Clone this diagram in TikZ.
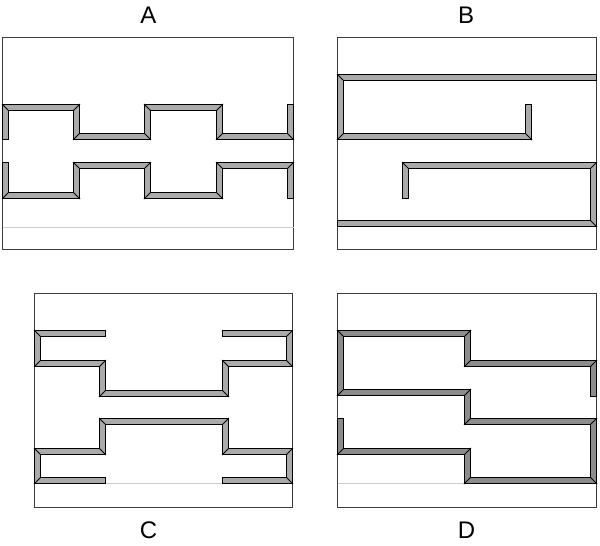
\documentclass[tikz,border=0pt]{standalone}
\usepackage{fontspec}
\setmainfont{Liberation Sans}
\usepackage{xcolor}
\definecolor{wal}{RGB}{170, 170, 170}
\definecolor{wad}{RGB}{140, 140, 140}
\definecolor{frm}{RGB}{60, 60, 60}
\definecolor{gln}{RGB}{205, 205, 205}
\newcommand{\wallpath}[2]{%
  \draw[wallout] #2;
  \draw[wallin, color=#1] #2;}

\begin{document}
\begin{tikzpicture}[x=1pt, y=-1pt,
    wallout/.style={line width=7pt, line join=miter, color=black},
    wallin/.style={line width=5pt, line join=miter, shorten <=1pt, shorten >=1pt},
    frame/.style={color=frm, line width=1pt},
    gline/.style={color=gln, line width=1pt},
    mit/.style={line width=0.8pt, color=black},
    lab/.style={font=\fontsize{24}{24}\selectfont}]
      \useasboundingbox (0, 0) rectangle (600, 546);
      % labels
      \node[lab] (la) at (148.3, 14.8) {A};
      \node[lab] (lb) at (466, 14.8) {B};
      \node[lab] (lc) at (148.5, 530) {C};
      \node[lab] (ld) at (466.5, 530) {D};
      % frames and floor lines
      \draw[frame] (2.5, 37.5) rectangle (293.5, 249.5);
      \draw[frame] (337.5, 37.5) rectangle (596.5, 249.5);
      \draw[frame] (34.5, 293.5) rectangle (292.5, 507.5);
      \draw[frame] (337.5, 293.5) rectangle (596.5, 507.5);
      \draw[gline] (2.5, 227.5)--(293.5, 227.5);
      \draw[gline] (34.5, 483.5)--(292.5, 483.5);
      \draw[gline] (337.5, 483.5)--(596.5, 483.5);
      % A
      \wallpath{wal}{(5.5, 140)--(5.5, 107.5)--(76.5, 107.5)--(76.5, 136.5)--(147.5, 136.5)--(147.5, 107.5)--(219.5, 107.5)--(219.5, 136.5)--(290.5, 136.5)--(290.5, 104)}
      \wallpath{wal}{(5.5, 162)--(5.5, 195.5)--(76.5, 195.5)--(76.5, 165.5)--(147.5, 165.5)--(147.5, 195.5)--(219.5, 195.5)--(219.5, 165.5)--(290.5, 165.5)--(290.5, 199)}
      \foreach \x/\y/\s in {5.5/107.5/1, 76.5/107.5/-1, 76.5/136.5/-1, 147.5/136.5/1, 147.5/107.5/1, 219.5/107.5/-1, 219.5/136.5/-1, 290.5/136.5/1,
          5.5/195.5/-1, 76.5/195.5/1, 76.5/165.5/1, 147.5/165.5/-1, 147.5/195.5/-1, 219.5/195.5/1, 219.5/165.5/1, 290.5/165.5/-1}
        \draw[mit] ({\x-3.5}, {\y-3.5*(\s)})--({\x+3.5}, {\y+3.5*(\s)});
      % B
      \wallpath{wal}{(597, 77.5)--(340.5, 77.5)--(340.5, 136.5)--(528.5, 136.5)--(528.5, 104)}
      \wallpath{wal}{(405.5, 199)--(405.5, 165.5)--(593.5, 165.5)--(593.5, 223.5)--(337, 223.5)}
      \foreach \x/\y/\s in {340.5/77.5/1, 340.5/136.5/-1, 528.5/136.5/1, 405.5/165.5/1, 593.5/165.5/-1, 593.5/223.5/1}
        \draw[mit] ({\x-3.5}, {\y-3.5*(\s)})--({\x+3.5}, {\y+3.5*(\s)});
      % C
      \wallpath{wal}{(106, 333.5)--(37.5, 333.5)--(37.5, 363.5)--(102.5, 363.5)--(102.5, 393.5)--(225.5, 393.5)--(225.5, 363.5)--(289.5, 363.5)--(289.5, 333.5)--(222, 333.5)}
      \wallpath{wal}{(222, 480.5)--(289.5, 480.5)--(289.5, 451.5)--(225.5, 451.5)--(225.5, 421.5)--(102.5, 421.5)--(102.5, 451.5)--(37.5, 451.5)--(37.5, 480.5)--(106, 480.5)}
      \foreach \x/\y/\s in {37.5/333.5/1, 37.5/363.5/-1, 102.5/363.5/-1, 102.5/393.5/-1, 225.5/393.5/1, 225.5/363.5/1, 289.5/363.5/1, 289.5/333.5/-1,
          289.5/480.5/1, 289.5/451.5/-1, 225.5/451.5/-1, 225.5/421.5/-1, 102.5/421.5/1, 102.5/451.5/1, 37.5/451.5/1, 37.5/480.5/-1}
        \draw[mit] ({\x-3.5}, {\y-3.5*(\s)})--({\x+3.5}, {\y+3.5*(\s)});
      % D
      \wallpath{wad}{(593.5, 397)--(593.5, 363.5)--(467.5, 363.5)--(467.5, 333.5)--(340.5, 333.5)--(340.5, 392.5)--(467.5, 392.5)--(467.5, 421.5)--(593.5, 421.5)--(593.5, 480.5)--(467.5, 480.5)--(467.5, 451.5)--(340.5, 451.5)--(340.5, 418)}
      \foreach \x/\y/\s in {593.5/363.5/-1, 467.5/363.5/-1, 467.5/333.5/-1, 340.5/333.5/1, 340.5/392.5/-1, 467.5/392.5/-1, 467.5/421.5/-1,
          593.5/421.5/-1, 593.5/480.5/1, 467.5/480.5/-1, 467.5/451.5/-1, 340.5/451.5/-1}
        \draw[mit] ({\x-3.5}, {\y-3.5*(\s)})--({\x+3.5}, {\y+3.5*(\s)});
    \end{tikzpicture}
\end{document}
